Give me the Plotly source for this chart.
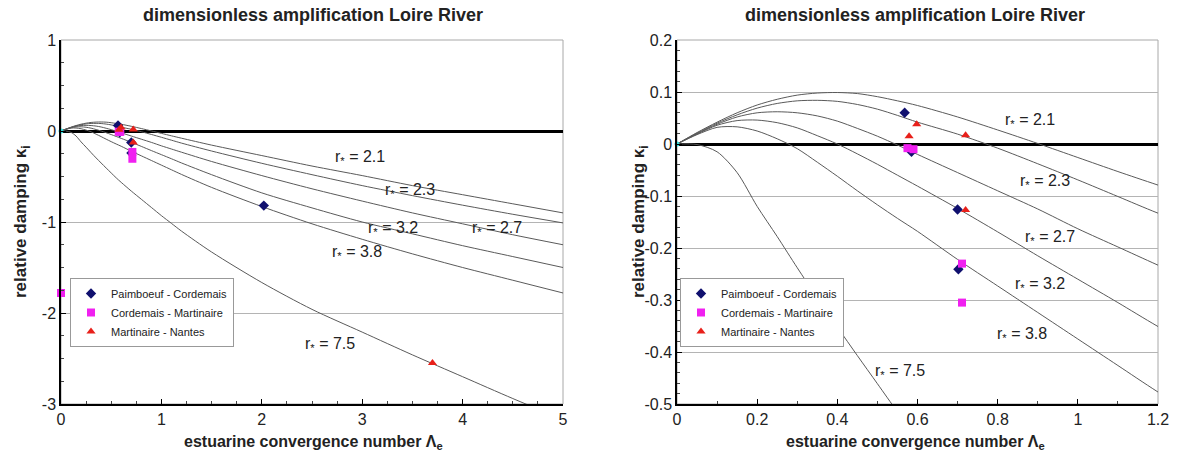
import plotly.graph_objects as go

# ---------------- data ----------------
lam = [0, 0.05, 0.1, 0.15, 0.2, 0.25, 0.3, 0.35, 0.4, 0.45, 0.5, 0.55, 0.6,
       0.7, 0.8, 0.9, 1.0, 1.1, 1.2, 1.5, 2.0, 2.5, 3.0, 3.5, 4.0, 4.5, 5.0]

k_21 = [0, 0.022, 0.042, 0.06, 0.075, 0.086, 0.094, 0.098, 0.099, 0.097, 0.091, 0.083, 0.074,
        0.052, 0.027, 0.001, -0.026, -0.053, -0.079, -0.155, -0.27, -0.385, -0.49, -0.60, -0.70, -0.80, -0.90]
k_23 = [0, 0.021, 0.04, 0.056, 0.069, 0.078, 0.083, 0.084, 0.082, 0.076, 0.067, 0.055, 0.042,
        0.019, -0.008, -0.038, -0.069, -0.101, -0.133, -0.22, -0.355, -0.48, -0.60, -0.71, -0.815, -0.915, -1.01]
k_27 = [0, 0.02, 0.038, 0.052, 0.06, 0.062, 0.06, 0.054, 0.044, 0.03, 0.015, -0.002, -0.02,
        -0.055, -0.09, -0.125, -0.163, -0.198, -0.233, -0.335, -0.49, -0.635, -0.77, -0.90, -1.02, -1.14, -1.25]
k_32 = [0, 0.019, 0.036, 0.045, 0.046, 0.041, 0.031, 0.016, 0.0, -0.019, -0.039, -0.06, -0.081,
        -0.124, -0.169, -0.215, -0.26, -0.305, -0.351, -0.48, -0.68, -0.845, -1.0, -1.13, -1.26, -1.38, -1.5]
k_38 = [0, 0.018, 0.032, 0.033, 0.025, 0.01, -0.009, -0.035, -0.062, -0.09, -0.117, -0.143, -0.168,
        -0.222, -0.273, -0.324, -0.375, -0.426, -0.477, -0.62, -0.83, -1.02, -1.19, -1.35, -1.50, -1.64, -1.78]
k_75 = [0, -0.001, -0.015, -0.055, -0.12, -0.178, -0.238, -0.296, -0.352, -0.407, -0.461, -0.515, -0.565,
        -0.66, -0.75, -0.84, -0.93, -1.015, -1.10, -1.33, -1.665, -1.96, -2.21, -2.46, -2.70, -2.94, -3.17]

curve_names = ["2.1", "2.3", "2.7", "3.2", "3.8", "7.5"]
curves = [k_21, k_23, k_27, k_32, k_38, k_75]

# observations
pc_x = [0.568, 0.702, 0.70, 2.02, 0.585]
pc_y = [0.060, -0.241, -0.126, -0.82, -0.015]
cm_x = [0.575, 0.59, 0.711, 0.711, 0.0]
cm_y = [-0.008, -0.01, -0.23, -0.305, -1.78]
mn_x = [0.598, 0.579, 0.72, 0.72, 3.7]
mn_y = [0.038, 0.015, 0.017, -0.127, -2.55]
series_names = ["Paimboeuf - Cordemais", "Cordemais - Martinaire", "Martinaire - Nantes"]

# tick labels
left_xticks = [0, 1, 2, 3, 4, 5]
left_yticks = [-3, -2, -1, 0, 1]
right_xticks = [0, 0.2, 0.4, 0.6, 0.8, 1, 1.2]
right_yticks = [-0.5, -0.4, -0.3, -0.2, -0.1, 0, 0.1, 0.2]

# label positions (data coords)
left_lab = {"2.1": (2.98, -0.29), "2.3": (3.48, -0.65), "3.2": (3.31, -1.07),
            "2.7": (4.34, -1.07), "3.8": (2.95, -1.33), "7.5": (2.68, -2.35)}
right_lab = {"2.1": (0.88, 0.046), "2.3": (0.918, -0.073), "2.7": (0.93, -0.179),
             "3.2": (0.905, -0.271), "3.8": (0.86, -0.367), "7.5": (0.556, -0.438)}

# ---------------- figure ----------------
FONT = "Arial, Liberation Sans, sans-serif"
W, H = 1177, 461


def PX(px):
    return px / W


def PY(py):
    return (H - py) / H


fig = go.Figure()

for xa, ya, leg, clip in (("x", "y", "legend", False), ("x2", "y2", "legend2", True)):
    for nm, kv in zip(curve_names, curves):
        fig.add_trace(go.Scatter(x=lam, y=kv, mode="lines", xaxis=xa, yaxis=ya,
                                 line=dict(color="#5a5a5a", width=1, shape="spline", smoothing=0.8),
                                 showlegend=False, hoverinfo="skip"))
    fig.add_trace(go.Scatter(x=[0], y=[0], mode="markers", xaxis=xa, yaxis=ya, showlegend=False,
                             marker=dict(color="#33dddd", size=5), cliponaxis=False))
    fig.add_trace(go.Scatter(x=pc_x, y=pc_y, mode="markers", name=series_names[0], xaxis=xa, yaxis=ya,
                             legend=leg, cliponaxis=clip,
                             marker=dict(symbol="diamond", color="#10106e", size=8)))
    fig.add_trace(go.Scatter(x=cm_x, y=cm_y, mode="markers", name=series_names[1], xaxis=xa, yaxis=ya,
                             legend=leg, cliponaxis=clip,
                             marker=dict(symbol="square", color="#f020f0", size=8)))
    fig.add_trace(go.Scatter(x=mn_x, y=mn_y, mode="markers", name=series_names[2], xaxis=xa, yaxis=ya,
                             legend=leg, cliponaxis=clip,
                             marker=dict(symbol="triangle-up", color="#e8201a", size=8)))

dom_y = [PY(404), PY(40)]
dom_l = [PX(61), PX(563)]
dom_r = [PX(677), PX(1158)]

axis_common = dict(showline=True, linecolor="black", linewidth=1.5, ticks="inside", ticklen=5,
                   tickcolor="black", tickfont=dict(family=FONT, size=16, color="#222"),
                   automargin=False)

fig.update_layout(
    width=W, height=H, margin=dict(l=0, r=0, t=0, b=0, pad=0, autoexpand=False),
    paper_bgcolor="white", plot_bgcolor="white", font=dict(family=FONT),
    xaxis=dict(domain=dom_l, range=[0, 5], tickmode="array", tickvals=left_xticks,
               ticktext=["%g" % v for v in left_xticks], showgrid=False, zeroline=False, anchor="y",
               minor=dict(dtick=0.25, ticks="inside", ticklen=3, tickcolor="#444"), **axis_common),
    yaxis=dict(domain=dom_y, range=[-3, 1], tickmode="array", tickvals=left_yticks,
               ticktext=["%g" % v for v in left_yticks], showgrid=True, gridcolor="#b4b4b4", gridwidth=1,
               zeroline=True, zerolinecolor="black", zerolinewidth=3,
               anchor="x", minor=dict(dtick=0.25, ticks="inside", ticklen=3, tickcolor="#444"), **axis_common),
    xaxis2=dict(domain=dom_r, range=[0, 1.2], tickmode="array", tickvals=right_xticks,
                ticktext=["%g" % v for v in right_xticks], showgrid=False, zeroline=False, anchor="y2",
                minor=dict(dtick=0.1, ticks="inside", ticklen=3, tickcolor="#444"), **axis_common),
    yaxis2=dict(domain=dom_y, range=[-0.5, 0.2], tickmode="array", tickvals=right_yticks,
                ticktext=["%g" % v for v in right_yticks], showgrid=True, gridcolor="#b4b4b4", gridwidth=1,
                zeroline=True, zerolinecolor="black", zerolinewidth=3,
                anchor="x2", minor=dict(dtick=0.02, ticks="inside", ticklen=3, tickcolor="#444"), **axis_common),
    legend=dict(x=PX(70), y=PY(278), xanchor="left", yanchor="top", bgcolor="white",
                bordercolor="#999", borderwidth=1, font=dict(family=FONT, size=11, color="#222"),
                itemwidth=30, tracegroupgap=0),
    legend2=dict(x=PX(680), y=PY(278), xanchor="left", yanchor="top", bgcolor="white",
                 bordercolor="#999", borderwidth=1, font=dict(family=FONT, size=11, color="#222"),
                 itemwidth=30, tracegroupgap=0),
)

# frame (gray top/right)
for xr, yr in (("x", "y"), ("x2", "y2")):
    fig.add_shape(type="rect", xref=xr + " domain", yref=yr + " domain", x0=0, x1=1, y0=0, y1=1,
                  line=dict(color="#a8a8a8", width=1), layer="below")

# curve labels
for nm in curve_names:
    for (xr, yr, pos) in (("x", "y", left_lab), ("x2", "y2", right_lab)):
        lx, ly = pos[nm]
        fig.add_annotation(x=lx, y=ly, xref=xr, yref=yr, text="r<sub>*</sub> = " + nm, showarrow=False,
                           xanchor="center", yanchor="middle",
                           font=dict(family=FONT, size=16, color="#222"))

# titles and axis titles
title = "<b>dimensionless amplification Loire River</b>"
xt = "<b>estuarine convergence number Λ<sub>e</sub></b>"
yt = "<b>relative damping κ<sub>i</sub></b>"
for cx, yx in ((313, 22), (915, 640)):
    fig.add_annotation(x=PX(cx), y=PY(15), xref="paper", yref="paper", text=title, showarrow=False,
                       xanchor="center", yanchor="middle", font=dict(family=FONT, size=18, color="#222"))
    fig.add_annotation(x=PX(cx), y=PY(442), xref="paper", yref="paper", text=xt, showarrow=False,
                       xanchor="center", yanchor="middle", font=dict(family=FONT, size=16, color="#222"))
    fig.add_annotation(x=PX(yx), y=PY(222), xref="paper", yref="paper", text=yt, showarrow=False,
                       xanchor="center", yanchor="middle",
                       textangle=-90, font=dict(family=FONT, size=17, color="#222"))

# remove the default page margin so the 1177x461 figure fills the window exactly
fig.write_html("out.html", config={"displayModeBar": False},
               post_script="document.body.style.margin='0';")
